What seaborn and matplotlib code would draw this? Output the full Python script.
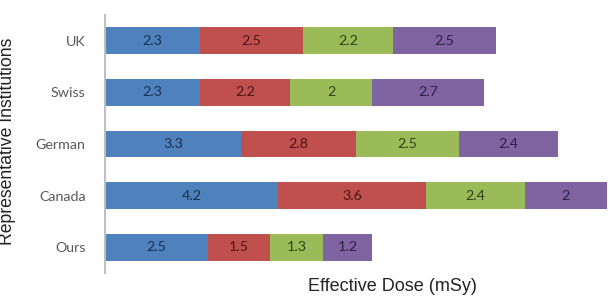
import numpy as np
import pandas as pd
import matplotlib.pyplot as plt
import seaborn as sns

# effective dose (mSy) per protocol part, stacked per institution
institutions = ["UK", "Swiss", "German", "Canada", "Ours"]
part1 = [2.3, 2.3, 3.3, 4.2, 2.5]
part2 = [2.5, 2.2, 2.8, 3.6, 1.5]
part3 = [2.2, 2.0, 2.5, 2.4, 1.3]
part4 = [2.5, 2.7, 2.4, 2.0, 1.2]

bar_colors = ["#4F81BD", "#C0504D", "#9BBB59", "#8064A2"]
text_colors = ["#1B2F4D", "#4A1614", "#33401A", "#2A2040"]

sns.set_style("white")
plt.rcParams["font.family"] = ["Lato", "DejaVu Sans"]

parts = [part1, part2, part3, part4]
df = pd.DataFrame({"inst": institutions})
cum = np.zeros(len(institutions))
for i, p in enumerate(parts):
    cum = cum + np.array(p)
    df["c%d" % i] = cum

fig = plt.figure(figsize=(6.15, 2.96), dpi=100)
ax = fig.add_axes([105 / 615, 1 - 273 / 296, 502 / 615, 258 / 296])

# layered cumulative bars, longest first
for i in range(3, -1, -1):
    sns.barplot(data=df, x="c%d" % i, y="inst", order=institutions,
                color=bar_colors[i], saturation=1, width=0.52,
                linewidth=0, ax=ax)

# value labels in the middle of each segment
for i, p in enumerate(parts):
    start = df["c%d" % i].values - np.array(p)
    for j, v in enumerate(p):
        ax.text(start[j] + v / 2, j, "%g" % v, ha="center", va="center",
                fontsize=10.3, color=text_colors[i])

ax.set_xlim(0, 12.2)
ax.set_ylim(4.5, -0.5)
ax.set_xticks([])
sns.despine(ax=ax, bottom=True)
ax.spines["left"].set_color("#BFBFBF")
ax.spines["left"].set_linewidth(1.5)
ax.tick_params(axis="y", length=0, pad=14, labelsize=10.3, labelcolor="#595959")

ax.set_ylabel("Representative Institutions", family="Liberation Sans",
              fontsize=12.7, color="#222222")
ax.yaxis.set_label_coords(16 / 615, 1 - 141 / 296, transform=fig.transFigure)
ax.set_xlabel("Effective Dose (mSy)", family="Liberation Sans",
              fontsize=13, color="#222222", va="baseline")
ax.xaxis.set_label_coords(392 / 615, 1 - 291 / 296, transform=fig.transFigure)

plt.savefig("out.png", dpi=100)
plt.close()
